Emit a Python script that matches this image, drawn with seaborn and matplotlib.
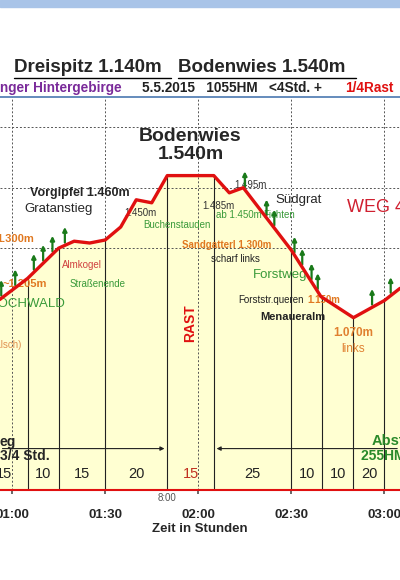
import matplotlib
matplotlib.use("Agg")
import matplotlib.pyplot as plt
import seaborn as sns
import numpy as np
import pandas as pd

sns.set_theme(style="white")
plt.rcParams['font.family'] = ['Liberation Sans', 'DejaVu Sans']

# profile: time in minutes, elevation in m
times = [56, 65, 75, 80, 85, 90, 95, 100, 105, 110, 125, 130, 134.5, 150, 159.5, 170, 180, 185]
elev = [1130, 1200, 1300, 1323, 1317, 1327, 1370, 1460, 1450, 1540, 1540, 1483, 1500, 1293, 1140, 1070, 1127, 1167]
seg_bounds = [65, 75, 90, 110, 125, 150, 160, 170, 180]
seg_label_x = [57.5, 70, 82.5, 100, 117.5, 137.5, 155, 165, 175]
seg_labels = ["15", "10", "15", "20", "15", "25", "10", "10", "20"]
tick_min = [60, 90, 120, 150, 180]
tick_labels = ["01:00", "01:30", "02:00", "02:30", "03:00"]
tree_t = [56.5, 61, 67, 70, 73, 77, 135, 142, 144.5, 151, 153.5, 156.5, 158.5, 176, 182]

df = pd.DataFrame({"t": times, "h": elev})
fig = plt.figure(figsize=(4, 5.8), dpi=100)
fig.patch.set_facecolor("white")
ax = fig.add_axes([0, 90/580, 1, 393/580])
xmin, xmax = 56.1, 185.0
ax.set_xlim(xmin, xmax)
ax.set_ylim(500, 1800)

ax.fill_between(times, 500, elev, color="#FFFFD2", zorder=0)
for y in [1300, 1500, 1700]:
    ax.axhline(y, color="#555555", ls=(0, (2, 2)), lw=0.7, zorder=1)
for t in tick_min:
    ax.axvline(t, color="#555555", ls=(0, (2, 2)), lw=0.7, zorder=1)
for t in seg_bounds:
    ax.plot([t, t], [500, np.interp(t, times, elev)], color="#222222", lw=0.8, zorder=2)
sns.lineplot(data=df, x="t", y="h", color="#E01010", lw=2.4, ax=ax, zorder=5, sort=False)

for t in tree_t:
    h = np.interp(t, times, elev)
    ax.annotate("", xy=(t, h + 70), xytext=(t, h),
                arrowprops=dict(arrowstyle="-|>", color="#1A7A1A", lw=1.6, mutation_scale=6), zorder=4)

for x, l in zip(seg_label_x, seg_labels):
    ax.text(x, 530, l, ha="center", va="bottom", fontsize=10.5,
            color="#C03020" if x == 117.5 else "#222222")

# texts
ax.text(117.5, 1640, "Bodenwies\n1.540m", ha="center", va="center", fontsize=14, fontweight="bold", linespacing=1.1)
ax.text(98, 1483, "Vorgipfel 1.460m", ha="right", va="center", fontsize=9, fontweight="bold")
ax.text(75, 1420, "Gratanstieg", ha="center", fontsize=9.5)
ax.text(101.5, 1405, "1.450m", ha="center", fontsize=7, color="#333333")
ax.text(113, 1368, "Buchenstauden", ha="center", fontsize=7, color="#3A9A3A")
ax.text(126.5, 1430, "1.485m", ha="center", fontsize=7, color="#333333")
ax.text(131.5, 1500, "1.495m", ha="left", fontsize=7, color="#333333")
ax.text(145, 1450, "Südgrat", ha="left", fontsize=9.5)
ax.text(133, 1400, "ab 1.450m", ha="center", fontsize=7, color="#3A9A3A")
ax.text(141, 1400, "Fichten", ha="left", fontsize=7, color="#3A9A3A")
ax.text(168, 1420, "WEG 49", ha="left", fontsize=13, color="#D02030")
ax.text(61, 1320, "1.300m", ha="center", fontsize=8, fontweight="bold", color="#E07820")
ax.text(143.5, 1300, "Sandgatterl 1.300m", ha="right", fontsize=7, fontweight="bold", color="#E07820")
ax.text(132, 1255, "scharf links", ha="center", fontsize=7, color="#222222")
ax.text(137.5, 1200, "Forstweg", ha="left", fontsize=9.5, color="#3A9A3A")
ax.text(76, 1235, "Almkogel", ha="left", fontsize=7, color="#D04040")
ax.text(64, 1170, "~1.205m", ha="center", fontsize=8, fontweight="bold", color="#E07820")
ax.text(78.5, 1170, "Straßenende", ha="left", fontsize=7, color="#3A9A3A")
ax.text(65, 1105, "HOCHWALD", ha="center", fontsize=9.5, color="#3A9A3A")
ax.text(154, 1120, "Forststr.queren", ha="right", fontsize=7, color="#222222")
ax.text(155, 1120, "1.150m", ha="left", fontsize=7, fontweight="bold", color="#E07820")
ax.text(161, 1063, "Menaueralm", ha="right", fontsize=8, fontweight="bold", color="#222222")
ax.text(170, 1010, "1.070m", ha="center", fontsize=8.5, fontweight="bold", color="#E08030")
ax.text(170, 955, "links", ha="center", fontsize=8.5, color="#E08030")
ax.text(63, 970, "30m falsch)", ha="right", fontsize=7, color="#E09050")
ax.text(117.5, 1000, "RAST", ha="center", rotation=90, fontsize=10, fontweight="bold", color="#E01010")
ax.text(56.1, 645, "eg", ha="left", fontsize=10, fontweight="bold")
ax.text(56.1, 600, "3/4 Std.", ha="left", fontsize=10, fontweight="bold")
ax.text(176, 648, "Abstieg", ha="left", fontsize=10.5, fontweight="bold", color="#2A8A2A")
ax.text(172.5, 600, "255HM   >2", ha="left", fontsize=10, fontweight="bold", color="#2A8A2A")
ax.annotate("", xy=(110, 637), xytext=(56, 637), arrowprops=dict(arrowstyle="-|>", color="#222222", lw=0.8, mutation_scale=6))
ax.annotate("", xy=(125, 637), xytext=(185, 637), arrowprops=dict(arrowstyle="-|>", color="#222222", lw=0.8, mutation_scale=6))

ax.set_xticks(tick_min)
ax.set_xticklabels(tick_labels, fontsize=9.5, fontweight="bold")
ax.tick_params(axis="x", length=3, pad=11, color="#555555", bottom=True)
ax.set_yticks([])
ax.set_xlabel("Zeit in Stunden", fontsize=9.5, fontweight="bold", labelpad=1)
ax.set_ylabel("")
ax.text(110, 490, "8:00", ha="center", va="top", fontsize=7, color="#555555", clip_on=False)
for s in ["top", "left", "right"]:
    ax.spines[s].set_visible(False)
ax.spines["bottom"].set_color("#E01010")
ax.spines["bottom"].set_linewidth(1.5)

# header
fig.add_artist(plt.Rectangle((0, 1 - 7/580), 1, 7/580, color="#A9C4E8", transform=fig.transFigure))
fig.add_artist(plt.Line2D([0, 1], [1 - 97/580, 1 - 97/580], color="#4A78B0", lw=1.2))
fig.text(0.035, 1 - 68/580, "Dreispitz 1.140m", ha="left", va="center", fontsize=13.5, fontweight="bold")
fig.text(0.445, 1 - 68/580, "Bodenwies 1.540m", ha="left", va="center", fontsize=13.5, fontweight="bold")
fig.add_artist(plt.Line2D([0.035, 0.427], [1 - 78/580] * 2, color="black", lw=1))
fig.add_artist(plt.Line2D([0.445, 0.89], [1 - 78/580] * 2, color="black", lw=1))
fig.text(0.0, 1 - 88/580, "nger Hintergebirge", ha="left", va="center", fontsize=9.8, fontweight="bold", color="#7A2A9A")
fig.text(0.355, 1 - 88/580, "5.5.2015   1055HM   <4Std. +", ha="left", va="center", fontsize=9.8, fontweight="bold", color="#222222")
fig.text(0.862, 1 - 88/580, "1/4Rast", ha="left", va="center", fontsize=9.8, fontweight="bold", color="#E01010")

fig.savefig("out.png", dpi=100, facecolor="white")
